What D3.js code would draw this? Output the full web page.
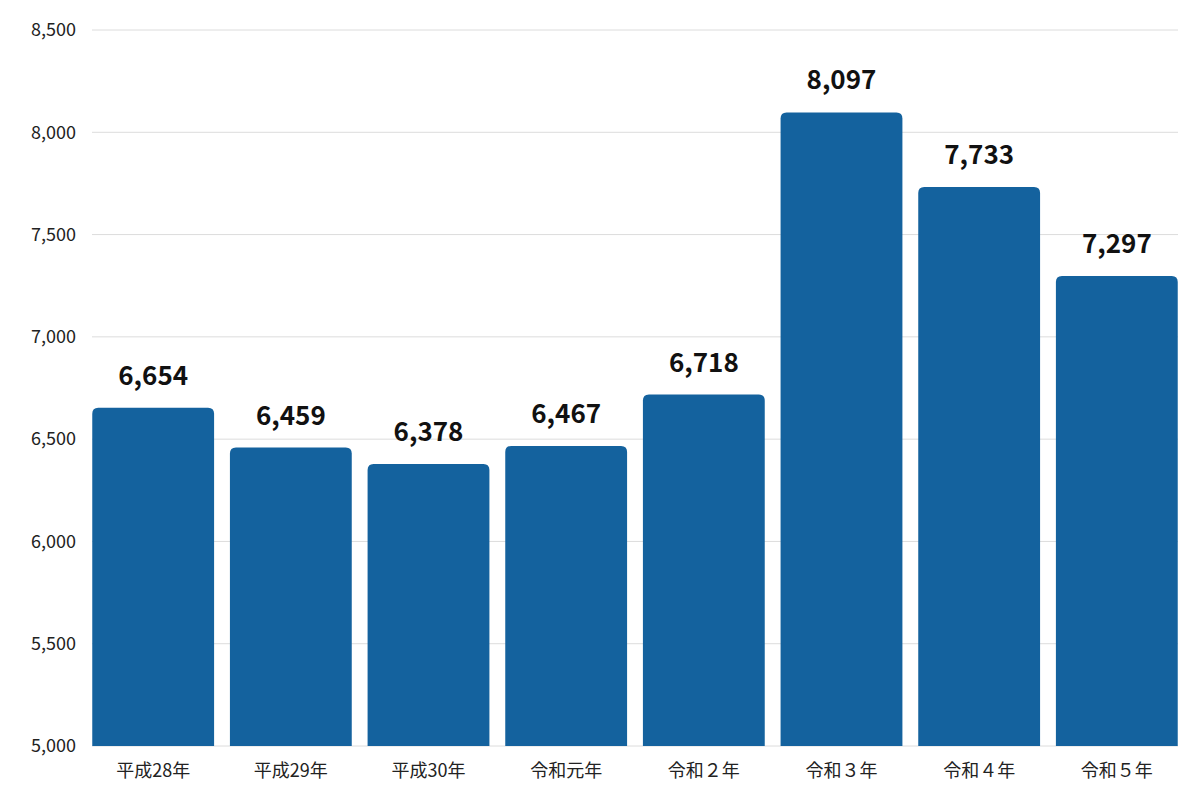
<!DOCTYPE html>
<html><head><meta charset="utf-8">
<script src="https://cdn.jsdelivr.net/npm/d3@7"></script>
<style>body{margin:0;background:#fff}svg{font-family:"Noto Sans CJK JP","Noto Sans",sans-serif}</style>
</head><body><svg id="c" width="1200" height="800"></svg>
<script>
const categories=["平成28年","平成29年","平成30年","令和元年","令和２年","令和３年","令和４年","令和５年"];
const values=[6654,6459,6378,6467,6718,8097,7733,7297];
const yTicks=[5000,5500,6000,6500,7000,7500,8000,8500];
const svg=d3.select("#c");
const m={l:92,r:1178,t:30,b:746};
const x=d3.scaleBand().domain(categories).range([m.l-8,m.r+8]).paddingInner(0.115).paddingOuter(0.06);
const y=d3.scaleLinear().domain([5000,8500]).range([m.b,m.t]);
const fmt=d3.format(",");
svg.append("g").selectAll("line").data(yTicks).join("line")
 .attr("x1",m.l).attr("x2",m.r).attr("y1",d=>y(d)).attr("y2",d=>y(d)).attr("stroke","#dcdcdc");
svg.append("g").selectAll("text").data(yTicks).join("text")
 .attr("x",76).attr("y",d=>y(d)).attr("dy","0.35em").attr("text-anchor","end")
 .attr("font-size",18).attr("fill","#222").text(fmt);
const r=6;
svg.append("g").selectAll("path").data(values).join("path").attr("fill","#14629e")
 .attr("d",(d,i)=>{const x0=x(categories[i]),w=x.bandwidth(),t=y(d),b=y(5000);
  return `M${x0},${b}V${t+r}Q${x0},${t} ${x0+r},${t}H${x0+w-r}Q${x0+w},${t} ${x0+w},${t+r}V${b}Z`;});
svg.append("g").selectAll("text").data(values).join("text")
 .attr("x",(d,i)=>x(categories[i])+x.bandwidth()/2).attr("y",d=>y(d)-23)
 .attr("text-anchor","middle").attr("font-size",26).attr("font-weight","bold").attr("fill","#111").text(fmt);
svg.append("g").selectAll("text").data(categories).join("text")
 .attr("x",d=>x(d)+x.bandwidth()/2).attr("y",777).attr("text-anchor","middle")
 .attr("font-size",18).attr("fill","#222").text(d=>d);
</script></body></html>
